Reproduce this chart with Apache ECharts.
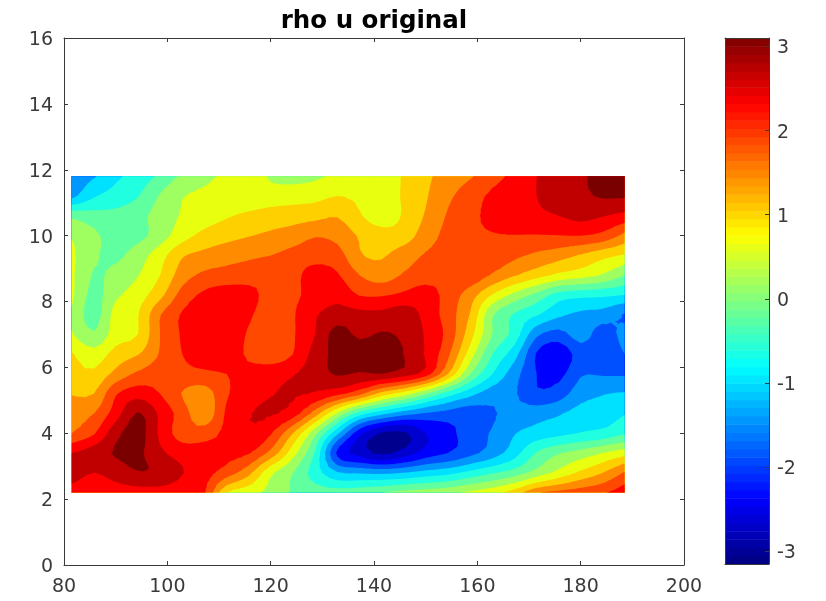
<!DOCTYPE html>
<html>
<head>
<meta charset="utf-8">
<style>html,body{margin:0;padding:0;background:#fff}#c{width:826px;height:601px;filter:blur(0.4px)}</style>
<script src="https://cdn.jsdelivr.net/npm/echarts@6/dist/echarts.min.js"></script>
</head>
<body>
<div id="c"></div>
<script>
const title = 'rho u original';
const xTicks = [80,100,120,140,160,180,200];
const yTicks = [0,2,4,6,8,10,12,14,16];
const barTicks = [-3,-2,-1,0,1,2,3];
const xs = [81.5,85.8,90.0,94.3,98.6,102.9,107.2,111.5,115.7,120.0,124.3,128.6,132.9,137.2,141.5,145.7,150.0,154.3,158.6,162.9,167.2,171.5,175.7,180.0,184.3,188.5];
const ys = [11.8,11.2,10.6,10.0,9.4,8.8,8.2,7.6,7.0,6.4,5.8,5.2,4.6,4.0,3.4,2.8,2.2];
const rhoU = [
[-1.47,-1.24,-0.89,-0.65,-0.34,0.05,0.28,0.44,0.71,0.28,0.20,0.28,0.44,0.38,0.48,0.79,1.06,1.30,1.49,1.76,2.04,2.31,2.47,2.66,2.78,2.82],
[-1.32,-0.85,-0.65,-0.44,0.01,0.34,0.44,0.48,0.52,0.56,0.59,0.63,0.75,0.67,0.59,0.79,1.10,1.45,1.73,2.00,2.15,2.31,2.47,2.62,2.74,2.74],
[-0.11,-0.26,-0.30,-0.15,0.13,0.40,0.56,0.71,0.83,0.91,0.95,1.02,1.12,0.79,0.56,0.79,1.18,1.57,1.84,2.00,2.12,2.23,2.31,2.43,2.33,2.19],
[0.32,0.05,-0.19,-0.15,0.17,0.59,0.87,1.02,1.12,1.22,1.34,1.51,1.41,1.10,0.91,0.95,1.34,1.65,1.84,1.90,1.91,1.90,1.91,1.92,1.80,1.41],
[0.44,0.03,-0.11,0.17,0.59,1.10,1.26,1.37,1.45,1.53,1.65,1.73,1.69,1.18,1.10,1.34,1.57,1.69,1.76,1.76,1.61,1.45,1.30,1.10,0.87,0.71],
[0.44,-0.07,0.09,0.34,0.75,1.34,1.61,1.69,1.76,1.84,1.80,2.12,1.96,1.53,1.34,1.57,1.73,1.80,1.80,1.49,1.18,0.91,0.67,0.52,0.32,-0.03],
[0.44,-0.15,0.28,0.56,1.02,1.69,2.00,2.12,2.04,1.80,1.84,2.08,2.19,1.90,1.88,2.00,2.12,1.76,1.34,0.73,0.24,-0.15,-0.58,-0.69,-0.73,-0.81],
[0.32,-0.19,0.52,0.73,1.51,1.96,2.12,2.15,1.98,1.73,1.88,2.27,2.47,2.43,2.43,2.54,2.19,1.73,1.12,0.01,-0.46,-0.77,-1.12,-1.28,-1.36,-1.63],
[0.40,0.02,0.56,0.75,1.53,1.96,2.12,2.19,1.88,1.69,1.88,2.31,2.86,2.62,2.74,2.62,2.27,1.80,0.91,-0.03,-0.58,-1.51,-1.75,-1.40,-1.79,-1.43],
[0.79,0.52,0.91,1.12,1.57,1.92,2.12,2.19,1.84,1.69,1.92,2.47,2.82,2.90,2.97,2.70,2.27,1.61,0.56,-0.42,-1.04,-2.02,-2.25,-1.82,-1.82,-1.59],
[0.87,0.83,1.26,1.61,1.76,1.80,1.84,1.92,2.08,2.15,2.29,2.51,2.74,2.66,2.69,2.51,2.12,1.14,-0.03,-0.81,-1.43,-1.98,-2.10,-1.63,-1.63,-1.63],
[1.12,1.14,1.88,2.15,1.92,1.51,1.34,1.88,2.12,2.29,2.35,2.27,2.04,1.65,0.98,0.56,-0.03,-0.62,-1.08,-1.43,-1.55,-1.92,-1.78,-1.36,-1.22,-1.16],
[1.34,1.53,2.12,2.74,2.23,1.73,1.26,2.00,2.29,2.35,2.12,1.34,0.32,-0.62,-1.08,-1.43,-1.63,-1.75,-1.82,-1.63,-1.47,-1.36,-1.24,-1.04,-1.01,-0.83],
[1.53,1.88,2.58,2.86,2.23,1.73,1.73,2.04,2.27,1.96,1.14,0.09,-1.12,-2.25,-2.80,-2.84,-2.37,-2.10,-1.79,-1.55,-1.22,-1.04,-0.93,-0.79,-0.69,-0.46],
[2.31,2.51,2.74,2.78,2.39,2.15,2.12,2.04,1.96,1.41,0.52,-0.46,-2.06,-2.53,-2.84,-2.60,-2.21,-1.98,-1.71,-1.40,-0.97,-0.38,-0.07,0.13,0.36,0.59],
[2.47,2.31,2.47,2.68,2.62,2.33,2.08,1.73,1.26,0.44,-0.03,-0.62,-1.16,-1.24,-1.28,-1.20,-1.04,-0.93,-0.69,-0.46,-0.23,0.13,0.48,0.83,1.14,1.57],
[2.12,2.04,2.12,2.12,2.12,2.04,1.96,0.75,0.48,0.24,-0.07,-0.19,-0.22,-0.15,-0.03,0.09,0.17,0.28,0.44,0.63,0.95,1.49,1.65,1.76,1.88,2.15]
];
const levels = [-3.15,-2.76,-2.37,-1.98,-1.59,-1.2,-0.81,-0.42,-0.03,0.36,0.75,1.14,1.53,1.92,2.31,2.7,3.1];
const bandColors = ['#00008f','#0000cf','#0000ff','#0050ff','#0098ff','#00e0ff','#20ffdf','#60ff9f','#a0ff60','#e8ff10','#ffd000','#ff8c00','#ff4800','#ff0000','#c00000','#7a0000'];
const barSteps = 64;

function jet(t){
  const c = v => Math.round(255*Math.max(0,Math.min(1,v)));
  return 'rgb('+c(1.5-Math.abs(4*t-3))+','+c(1.5-Math.abs(4*t-2))+','+c(1.5-Math.abs(4*t-1))+')';
}
// contour engine: refine the read grid for smooth isolines, clip triangles to "value >= level", paint lowest first
const REF = 3;
function cr(a,b,c,d,t){return 0.5*(2*b+(c-a)*t+(2*a-5*b+4*c-d)*t*t+(3*b-a-3*c+d)*t*t*t);}
function refine(arr){
  const out=[],n=arr.length;
  for(let i=0;i<n-1;i++){
    const a=arr[Math.max(i-1,0)],b=arr[i],c=arr[i+1],d=arr[Math.min(i+2,n-1)];
    for(let k=0;k<REF;k++) out.push(cr(a,b,c,d,k/REF));
  }
  out.push(arr[n-1]);
  return out;
}
const fx=refine(xs), fy=refine(ys);
const rowsF=rhoU.map(refine);
const colsF=fx.map((_,j)=>refine(rowsF.map(r=>r[j])));
const F=fy.map((_,i)=>fx.map((_,j)=>colsF[j][i]));
function clipAbove(poly,lv){
  const out=[];
  for(let i=0;i<poly.length;i++){
    const p=poly[i],q=poly[(i+1)%poly.length];
    const pi=p[2]>=lv, qi=q[2]>=lv;
    if(pi) out.push(p);
    if(pi!==qi){const t=(lv-p[2])/(q[2]-p[2]);out.push([p[0]+t*(q[0]-p[0]),p[1]+t*(q[1]-p[1]),lv]);}
  }
  return out;
}
const bandPolys=bandColors.map(()=>[]);
for(let i=0;i<fy.length-1;i++)for(let j=0;j<fx.length-1;j++){
  const a=[fx[j],fy[i],F[i][j]],b=[fx[j+1],fy[i],F[i][j+1]],c=[fx[j+1],fy[i+1],F[i+1][j+1]],d=[fx[j],fy[i+1],F[i+1][j]];
  [[a,b,c],[a,c,d]].forEach(tri=>{
    bandColors.forEach((_,k)=>{
      const p=k===0?tri:clipAbove(tri,levels[k]);
      if(p.length>=3)bandPolys[k].push(p);
    });
  });
}
echarts.graphic.registerShape('bandRegion',echarts.graphic.extendShape({
  shape:{polys:[]},
  buildPath(ctx,shape){
    shape.polys.forEach(p=>{
      ctx.moveTo(p[0][0],p[0][1]);
      for(let i=1;i<p.length;i++)ctx.lineTo(p[i][0],p[i][1]);
      ctx.closePath();
    });
  }
}));
const ink='#3a3a3a', fs=19, ff='"DejaVu Sans"';
const axisBase={axisLine:{show:true,onZero:false,lineStyle:{color:ink,width:1}},axisTick:{show:true,inside:true,length:4,lineStyle:{color:ink}},splitLine:{show:false},z:10};
const labelOn={show:true,color:ink,fontSize:fs,fontFamily:ff};
const chart=echarts.init(document.getElementById('c'),null,{renderer:'canvas'});
chart.setOption({
  animation:false,
  backgroundColor:'#fff',
  title:{text:title,left:369,top:4,textAlign:'center',textStyle:{color:'#000',fontFamily:ff,fontWeight:'bold',fontSize:24.5}},
  grid:[
    {left:64,right:142,top:38,bottom:36},
    {left:725,right:57,top:38,bottom:37}
  ],
  xAxis:[
    {...axisBase,type:'value',gridIndex:0,position:'bottom',min:xTicks[0],max:xTicks[xTicks.length-1],interval:20,axisLabel:{...labelOn,margin:13}},
    {...axisBase,type:'value',gridIndex:0,position:'top',min:xTicks[0],max:xTicks[xTicks.length-1],interval:20,axisLabel:{show:false}},
    {...axisBase,type:'value',gridIndex:1,position:'bottom',min:0,max:1,axisTick:{show:false},axisLabel:{show:false}},
    {...axisBase,type:'value',gridIndex:1,position:'top',min:0,max:1,axisTick:{show:false},axisLabel:{show:false}}
  ],
  yAxis:[
    {...axisBase,type:'value',gridIndex:0,position:'left',min:yTicks[0],max:yTicks[yTicks.length-1],interval:2,axisLabel:{...labelOn,margin:11,verticalAlign:'top',lineHeight:4}},
    {...axisBase,type:'value',gridIndex:0,position:'right',min:yTicks[0],max:yTicks[yTicks.length-1],interval:2,axisLabel:{show:false}},
    {...axisBase,type:'value',gridIndex:1,position:'right',min:levels[0],max:levels[levels.length-1],
      axisTick:{...axisBase.axisTick,customValues:barTicks},
      axisLabel:{...labelOn,margin:8,verticalAlign:'top',lineHeight:4,customValues:barTicks}},
    {...axisBase,type:'value',gridIndex:1,position:'left',min:levels[0],max:levels[levels.length-1],axisTick:{show:false},axisLabel:{show:false}}
  ],
  series:[
    {type:'custom',coordinateSystem:'cartesian2d',xAxisIndex:0,yAxisIndex:0,silent:true,clip:true,
     data:bandColors.map((_,k)=>[xs[0],ys[0],k]),
     renderItem:(params,api)=>{
       const k=api.value(2);
       return {type:'bandRegion',silent:true,z2:k,
         shape:{polys:bandPolys[k].map(p=>p.map(v=>api.coord([v[0],v[1]])))},
         style:{fill:bandColors[k]}};
     }},
    {type:'custom',coordinateSystem:'cartesian2d',xAxisIndex:2,yAxisIndex:2,silent:true,
     data:Array.from({length:barSteps},(_,i)=>[0,levels[0],i]),
     renderItem:(params,api)=>{
       const i=api.value(2),lo=levels[0],hi=levels[levels.length-1],st=(hi-lo)/barSteps;
       const a=api.coord([0,lo+(i+1)*st]),b=api.coord([1,lo+i*st]);
       return {type:'rect',shape:{x:a[0],y:a[1],width:b[0]-a[0],height:b[1]-a[1]+0.5},
         style:{fill:jet((i+0.5)/barSteps)}};
     }}
  ]
});
</script>
</body>
</html>
